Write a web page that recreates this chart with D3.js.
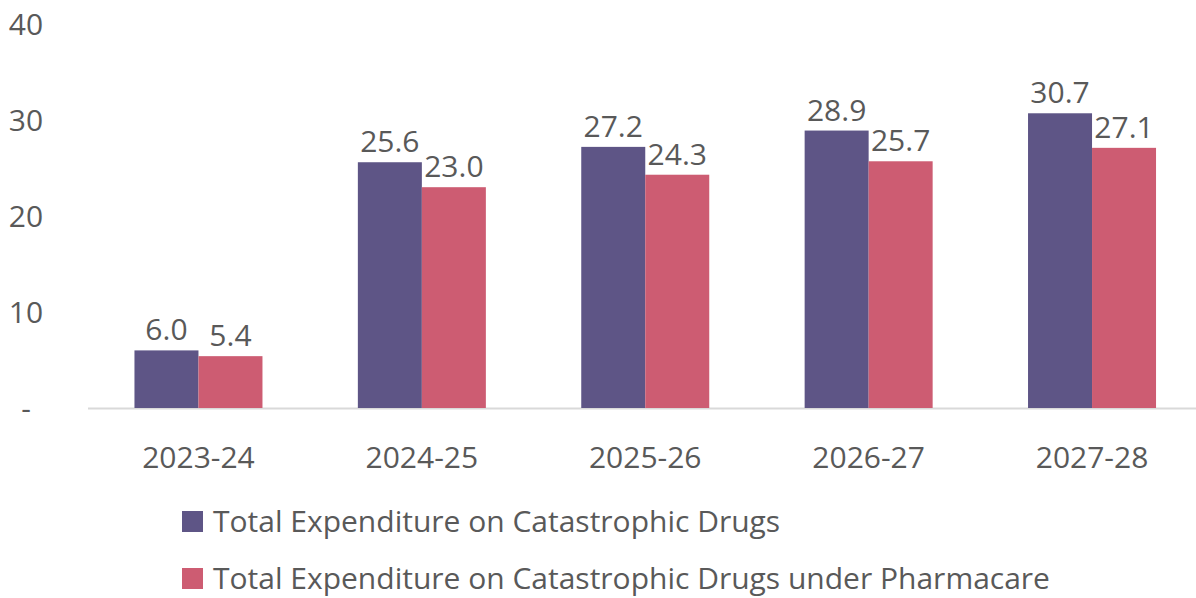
<!DOCTYPE html>
<html>
<head>
<meta charset="utf-8">
<script src="https://cdn.jsdelivr.net/npm/d3@7"></script>
<style>
  body { margin: 0; background: #fff; }
  svg text { font-family: "Open Sans", sans-serif; fill: #595959; }
</style>
</head>
<body>
<div class="svg-chart"></div>
<script>
const years = ["2023-24", "2024-25", "2025-26", "2026-27", "2027-28"];
const totalSpend = [6.0, 25.6, 27.2, 28.9, 30.7];
const pharmacareSpend = [5.4, 23.0, 24.3, 25.7, 27.1];
const seriesNames = [
  "Total Expenditure on Catastrophic Drugs",
  "Total Expenditure on Catastrophic Drugs under Pharmacare",
];
const yTicks = [0, 10, 20, 30, 40];

const colors = ["#5e5586", "#cd5c72"];

const width = 1196;
const height = 598;
const margin = { top: 24, bottom: 190, left: 88 };

let svg = d3
  .select(".svg-chart")
  .append("svg")
  .attr("width", width)
  .attr("height", height);

let xScale = d3
  .scaleBand()
  .domain(years)
  .range([margin.left, 1202.5])
  .paddingInner(0.427)
  .paddingOuter(0.208);

let xSub = d3.scaleBand().domain([0, 1]).range([0, xScale.bandwidth()]);

const yScale = d3
  .scaleLinear()
  .domain([0, 40])
  .range([height - margin.bottom, margin.top]);

// y tick labels, zero shown as a dash
svg
  .selectAll(".ytick")
  .data(yTicks)
  .enter()
  .append("text")
  .attr("class", "ytick")
  .attr("x", 26)
  .attr("y", (d) => yScale(d))
  .attr("dy", "0.35em")
  .attr("text-anchor", "middle")
  .style("font-size", "30px")
  .text((d) => (d === 0 ? "-" : d));

// baseline
svg
  .append("line")
  .attr("x1", margin.left)
  .attr("x2", width)
  .attr("y1", yScale(0) + 0.5)
  .attr("y2", yScale(0) + 0.5)
  .attr("stroke", "#d9d9d9")
  .attr("stroke-width", 2);

const series = [totalSpend, pharmacareSpend];

series.forEach((vals, s) => {
  let g = svg.append("g");
  g.selectAll("rect")
    .data(vals)
    .enter()
    .append("rect")
    .attr("x", (d, i) => xScale(years[i]) + xSub(s))
    .attr("width", xSub.bandwidth())
    .attr("y", (d) => yScale(d))
    .attr("height", (d) => yScale(0) - yScale(d))
    .attr("fill", colors[s]);

  g.selectAll("text")
    .data(vals)
    .enter()
    .append("text")
    .attr("x", (d, i) => xScale(years[i]) + xSub(s) + xSub.bandwidth() / 2)
    .attr("y", (d) => yScale(d) - 10)
    .attr("text-anchor", "middle")
    .style("font-size", "30px")
    .text((d) => d.toFixed(1));
});

// x axis labels
svg
  .selectAll(".xlab")
  .data(years)
  .enter()
  .append("text")
  .attr("class", "xlab")
  .attr("x", (d) => xScale(d) + xScale.bandwidth() / 2)
  .attr("y", 457)
  .attr("dy", "0.35em")
  .attr("text-anchor", "middle")
  .style("font-size", "30px")
  .text((d) => d);

// legend
let legend = svg
  .selectAll(".legend")
  .data(seriesNames)
  .enter()
  .append("g")
  .attr("class", "legend")
  .attr("transform", (d, i) => `translate(182, ${521 + i * 57})`);

legend
  .append("rect")
  .attr("x", 0)
  .attr("y", -10)
  .attr("width", 21)
  .attr("height", 21)
  .attr("fill", (d, i) => colors[i]);

legend
  .append("text")
  .attr("x", 31)
  .attr("y", 0)
  .attr("dy", "0.35em")
  .style("font-size", "30px")
  .text((d) => d);
</script>
</body>
</html>
